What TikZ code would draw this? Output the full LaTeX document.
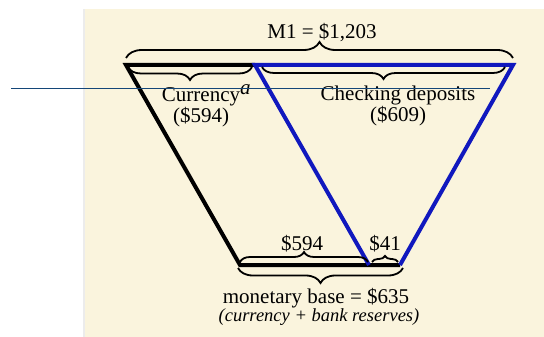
\documentclass[tikz,border=0pt]{standalone}
\usepackage{fontspec}
\setmainfont{Liberation Serif}
\usetikzlibrary{positioning,decorations.pathreplacing}
\definecolor{paper}{RGB}{250,244,221}
\definecolor{depblue}{RGB}{16,24,190}
\definecolor{rulecol}{RGB}{20,70,120}
\tikzset{
  thickline/.style={line width=4pt,line join=miter},
  braceup/.style={decorate,decoration={brace,amplitude=#1},line width=1.8pt},
  bracedown/.style={decorate,decoration={brace,mirror,amplitude=#1},line width=1.8pt},
  lbl/.style={font=\fontsize{21}{21}\selectfont,align=center,inner sep=0pt},
  note/.style={font=\fontsize{18.5}{18.5}\selectfont\itshape,inner sep=0pt},
}

\begin{document}
\begin{tikzpicture}[x=1pt,y=-1pt]
\useasboundingbox (0,0) rectangle (544,337);
\fill[paper] (83,9) rectangle (544,337);
\draw[gray!15,line width=1.5pt] (83.75,9) -- (83.75,337);

% corners of the two funnels
\coordinate (tl) at (126,65);
\coordinate (tm) at (255,65);
\coordinate (tr) at (513,65);
\coordinate (bl) at (240,265);
\coordinate (bm) at (369,265);
\coordinate (br) at (400,265);
\coordinate (ruleL) at (11,88);
\coordinate (ruleR) at (490,88);

\draw[thickline] (tm) -- (tl) -- (bl) -- (br);
\draw[thickline,depblue] (bm) -- (tm) -- (tr) -- (br);

% braces
\draw[braceup=16] ([yshift=7pt]tl) -- ([yshift=7pt]tr);
\draw[bracedown=13] ([xshift=2pt,yshift=-2pt]tl) -- ([xshift=-3pt,yshift=-2pt]tm);
\draw[bracedown=12] ([xshift=7pt,yshift=-2pt]tm) -- ([xshift=-8pt,yshift=-2pt]tr);
\draw[braceup=10] ([yshift=3pt]bl) -- ([xshift=-1pt,yshift=3pt]bm);
\draw[braceup=6] ([xshift=3pt,yshift=3pt]bm) -- ([xshift=-2pt,yshift=3pt]br);
\draw[bracedown=15] ([xshift=-2pt,yshift=-3pt]bl) -- ([xshift=3pt,yshift=-3pt]br);

% labels
\node[lbl] (mone) at (322,33) {M1 = \$1,203};
\node[lbl] (cur) at (201,106) {Currency\rlap{\raisebox{.35em}{\itshape a}}\\(\$594)};
\node[lbl] (chk) at (398,106) {Checking deposits\\(\$609)};
\node[lbl,anchor=base] (basecur) at (302,250) {\$594};
\node[lbl,anchor=base] (baseres) at (385,250) {\$41};
\node[lbl,anchor=base] (mb) at (316,303) {monetary base = \$635};
\node[note,anchor=base] (mbnote) at (319,321) {(currency + bank reserves)};

\draw[rulecol,line width=0.9pt] (ruleL) -- (ruleR);
\end{tikzpicture}
\end{document}
